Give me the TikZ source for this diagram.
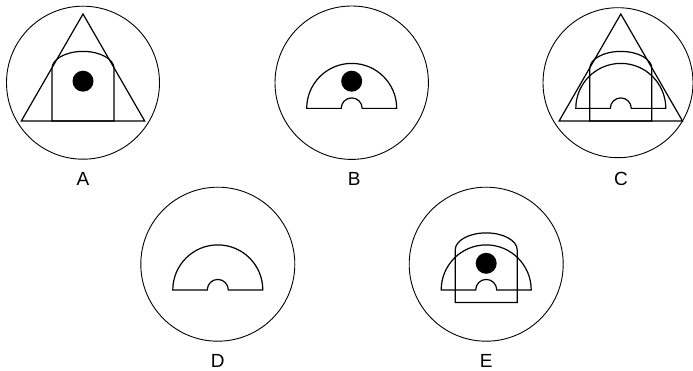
\documentclass[tikz,border=0pt]{standalone}
\usepackage{fontspec}
\setmainfont{Liberation Sans}
\tikzset{
  ring/.style={line width=0.9pt},
  part/.style={line width=1.2pt},
  lab/.style={font=\fontsize{19}{22}\selectfont, inner sep=0pt},
  halfring/.pic={
    \draw[part] (-45,-25.7) arc[start angle=180,end angle=0,radius=45]
      -- (10.5,-25.7) arc[start angle=0,end angle=180,radius=10.5] -- cycle;
  },
  gate/.pic={
    \draw[part] (-31,-38.3) -- (-31,14.3)
      arc[start angle=180,end angle=0,x radius=31,y radius=17] -- (31,-38.3) -- cycle;
  },
  tri/.pic={
    \draw[part] (0,68.7) -- (-61.7,-38.3) -- (61.7,-38.3) -- cycle;
  },
  spot/.pic={
    \fill (0,1.5) circle (10.5);
  }
}
\begin{document}
\begin{tikzpicture}[x=1pt,y=1pt]
  \useasboundingbox (0,0) rectangle (693,-371);
  % A
  \begin{scope}[shift={(83,-82.7)}]
    \draw[ring] (0,0) circle (76.5);
    \pic {tri};
    \pic {gate};
    \pic {spot};
    \node[lab] (labA) at (0,-96.6) {A};
  \end{scope}
  % B
  \begin{scope}[shift={(351.7,-82.7)}]
    \draw[ring] (0,0) circle (76.7);
    \pic {halfring};
    \pic {spot};
    \node[lab] (labB) at (2.5,-96.6) {B};
  \end{scope}
  % C
  \begin{scope}[shift={(618,-82.7)}]
    \draw[ring] (0,0) circle (75);
    \pic at (2.8,0) {tri};
    \pic at (2.8,0) {gate};
    \pic at (2.8,0) {halfring};
    \node[lab] (labC) at (3,-96.6) {C};
  \end{scope}
  % D
  \begin{scope}[shift={(217.8,-264.2)}]
    \draw[ring] (0,0) circle (77);
    \pic {halfring};
    \node[lab] (labD) at (0,-97) {D};
  \end{scope}
  % E
  \begin{scope}[shift={(486.2,-264.2)}]
    \draw[ring] (0,0) circle (77);
    \pic {gate};
    \pic {halfring};
    \pic at (0,-0.6) {spot};
    \node[lab] (labE) at (0,-97) {E};
  \end{scope}
\end{tikzpicture}
\end{document}
